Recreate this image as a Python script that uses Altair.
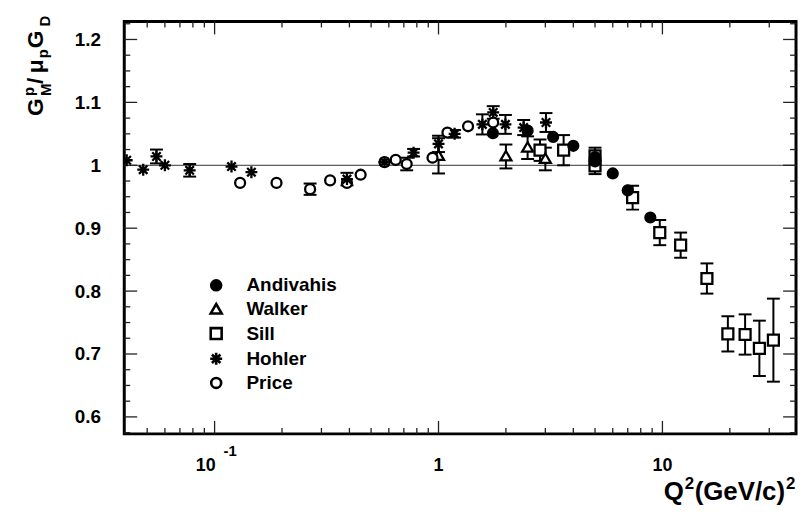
import altair as alt
import pandas as pd

FONT = "Liberation Sans"
SERIES = ["Andivahis", "Walker", "Sill", "Hohler", "Price"]

# ---- data ----
andivahis_q2 = [1.75, 2.5, 3.25, 4.0, 5.0, 5.0, 6.0, 7.0, 8.83]
andivahis_g = [1.051, 1.055, 1.045, 1.031, 1.013, 1.006, 0.987, 0.960, 0.917]
andivahis_e = [0, 0, 0, 0, 0, 0, 0, 0, 0]

walker_q2 = [1.0, 2.0, 2.5, 3.0]
walker_g = [1.015, 1.014, 1.028, 1.010]
walker_e = [0.028, 0.019, 0.018, 0.018]

sill_q2 = [2.84, 3.62, 5.0, 5.0, 7.36, 9.73, 12.06, 15.8, 19.6, 23.4, 27.1, 31.3]
sill_g = [1.024, 1.024, 1.015, 0.999, 0.9485, 0.893, 0.873, 0.820, 0.732, 0.731, 0.709, 0.722]
sill_e = [0.017, 0.024, 0.013, 0.013, 0.019, 0.020, 0.020, 0.024, 0.028, 0.032, 0.044, 0.066]

hohler_q2 = [0.0405, 0.048, 0.055, 0.060, 0.0774, 0.119, 0.146, 0.39, 0.574, 0.774,
             1.0, 1.18, 1.57, 1.755, 1.99, 2.40, 3.02]
hohler_g = [1.008, 0.993, 1.014, 1.000, 0.992, 0.998, 0.989, 0.978, 1.005, 1.020,
            1.034, 1.050, 1.065, 1.084, 1.065, 1.060, 1.068]
hohler_e = [0, 0, 0.011, 0, 0.010, 0, 0, 0.010, 0, 0.006,
            0.013, 0.006, 0.016, 0.010, 0.015, 0.012, 0.015]

price_q2 = [0.130, 0.189, 0.267, 0.328, 0.39, 0.449, 0.574, 0.644, 0.721, 0.94, 1.096, 1.355, 1.755]
price_g = [0.972, 0.972, 0.962, 0.976, 0.972, 0.985, 1.005, 1.0085, 1.002, 1.012, 1.052, 1.062, 1.068]
price_e = [0, 0, 0.009, 0, 0, 0, 0, 0, 0.010, 0, 0, 0, 0]

# axis tick positions
x_major = [0.1, 1, 10]
x_minor = [0.05, 0.06, 0.07, 0.08, 0.09, 0.2, 0.3, 0.4, 0.5, 0.6, 0.7, 0.8, 0.9,
           2, 3, 4, 5, 6, 7, 8, 9, 20, 30]
y_major = [0.6, 0.7, 0.8, 0.9, 1.0, 1.1, 1.2]
y_minor = [0.575, 0.625, 0.65, 0.675, 0.725, 0.75, 0.775, 0.825, 0.85, 0.875,
           0.925, 0.95, 0.975, 1.025, 1.05, 1.075, 1.125, 1.15, 1.175, 1.225]

# ---- table ----
rows = []
for name, qs, gs, es in [
    ("Andivahis", andivahis_q2, andivahis_g, andivahis_e),
    ("Walker", walker_q2, walker_g, walker_e),
    ("Sill", sill_q2, sill_g, sill_e),
    ("Hohler", hohler_q2, hohler_g, hohler_e),
    ("Price", price_q2, price_g, price_e),
]:
    for q, g, e in zip(qs, gs, es):
        rows.append({"series": name, "q2": q, "g": g, "err": e})
df = pd.DataFrame(rows)
df["lo"] = df["g"] - df["err"]
df["hi"] = df["g"] + df["err"]
draw_order = {"Sill": 0, "Walker": 1, "Price": 2, "Hohler": 3, "Andivahis": 4}
df["ord"] = df["series"].map(draw_order)
df = df.sort_values("ord", kind="stable").reset_index(drop=True)
errs = df[df["err"] > 0]

W, H = 676, 415
x_scale = alt.Scale(type="log", domain=[0.0395, 39.5], nice=False)
y_scale = alt.Scale(domain=[0.573, 1.2286], nice=False, zero=False)
y_axis = alt.Axis(values=y_major, format="~g", labelFont=FONT, labelFontSize=19,
                  labelFontWeight="bold", labelColor="black", domain=False,
                  ticks=False, tickSize=0, grid=False, labelPadding=24, title=None)

CIRCLE = "M1,0A1,1,0,1,1,-1,0A1,1,0,1,1,1,0Z"
TRIANGLE = "M0,-1.1L1.1,0.8L-1.1,0.8Z"
SQUARE = "M-1.1,-1.1H1.1V1.1H-1.1Z"
STAR = "M-1.2,0H1.2M0,-1.2V1.2M-0.85,-0.85L0.85,0.85M-0.85,0.85L0.85,-0.85"
SHAPES = [CIRCLE, TRIANGLE, SQUARE, STAR, CIRCLE]
FILLS = ["black", "white", "white", "white", "white"]
STROKES = ["black", "black", "black", "black", "black"]

LEG = alt.Legend(title=None, orient="none", legendX=83, legendY=256, padding=0,
                 labelFont=FONT, labelFontSize=19, labelFontWeight="bold",
                 labelColor="black", symbolSize=100, symbolStrokeWidth=2.6,
                 symbolStrokeColor="black", rowPadding=2.3, labelOffset=21,
                 labelLimit=300)

X = alt.X("q2:Q", scale=x_scale, axis=None)
Y = alt.Y("g:Q", scale=y_scale, axis=y_axis)

one = pd.DataFrame({"k": [0]})

unity = alt.Chart(one).mark_rule(color="#333333", strokeWidth=1).encode(
    y=alt.Y(datum=1.0, type="quantitative", scale=y_scale, axis=y_axis)
)

bars = alt.Chart(errs).mark_rule(color="black", strokeWidth=2).encode(
    x=X, y=alt.Y("lo:Q", scale=y_scale, axis=y_axis), y2="hi:Q"
)
cap_lo = alt.Chart(errs).mark_tick(orient="horizontal", size=13, thickness=2,
                                   color="black", opacity=1).encode(
    x=X, y=alt.Y("lo:Q", scale=y_scale, axis=y_axis)
)
cap_hi = alt.Chart(errs).mark_tick(orient="horizontal", size=13, thickness=2,
                                   color="black", opacity=1).encode(
    x=X, y=alt.Y("hi:Q", scale=y_scale, axis=y_axis)
)

points = alt.Chart(df).mark_point(opacity=1, strokeWidth=2.3, size=100, clip=True).encode(
    x=X, y=Y,
    shape=alt.Shape("series:N", scale=alt.Scale(domain=SERIES, range=SHAPES), legend=LEG),
    fill=alt.Fill("series:N", scale=alt.Scale(domain=SERIES, range=FILLS), legend=LEG),
    stroke=alt.Stroke("series:N", scale=alt.Scale(domain=SERIES, range=STROKES), legend=LEG),
    order=alt.Order("ord:Q"),
)

TICK = "#222222"
xmaj = pd.DataFrame({"v": x_major})
xmin = pd.DataFrame({"v": x_minor})
ymaj = pd.DataFrame({"v": y_major})
ymin = pd.DataFrame({"v": y_minor})
XV = alt.X("v:Q", scale=x_scale, axis=None)
YV = alt.Y("v:Q", scale=y_scale, axis=y_axis)


def xt(data, y0, y1):
    return alt.Chart(data).mark_rule(color=TICK, strokeWidth=1.3).encode(
        x=XV, y=alt.value(y0), y2=alt.value(y1))


def yt(data, x0, x1):
    return alt.Chart(data).mark_rule(color=TICK, strokeWidth=1.3).encode(
        y=YV, x=alt.value(x0), x2=alt.value(x1))


ticks = [
    xt(xmaj, H, H - 13), xt(xmin, H, H - 6), xt(xmaj, 0, 13), xt(xmin, 0, 6),
    yt(ymaj, 0, 13), yt(ymin, 0, 6), yt(ymaj, W, W - 13), yt(ymin, W, W - 6),
]


def txt(s, x, y, size, angle=0, align="left"):
    return alt.Chart(one).mark_text(
        text=s, font=FONT, fontSize=size, fontWeight="bold", color="black",
        align=align, baseline="alphabetic", angle=angle,
    ).encode(x=alt.value(x), y=alt.value(y))


# x tick labels
xlab = pd.DataFrame({"v": [1, 10], "t": ["1", "10"]})
xlabels = alt.Chart(xlab).mark_text(
    font=FONT, fontSize=18, fontWeight="bold", color="black", align="center",
    baseline="alphabetic").encode(x=XV, y=alt.value(452), text="t:N")
tenth = pd.DataFrame({"v": [0.1]})
xl_ten = alt.Chart(tenth).mark_text(
    text="10", font=FONT, fontSize=18, fontWeight="bold", color="black",
    align="right", baseline="alphabetic", dx=1).encode(x=XV, y=alt.value(452))
xl_exp = alt.Chart(tenth).mark_text(
    text="-1", font=FONT, fontSize=15, fontWeight="bold", color="black",
    align="left", baseline="alphabetic", dx=9).encode(x=XV, y=alt.value(437))

# y axis title pieces (rotated)
ytitle = [
    txt("G", -82, 95, 23, 270),
    txt("M", -74, 75, 15, 270),
    txt("p", -91, 75, 15, 270),
    txt("/", -82, 63, 23, 270),
    txt("\u03bc", -82, 52, 23, 270),
    txt("p", -77, 37, 15, 270),
    txt("G", -82, 27, 23, 270),
    txt("D", -75, 5, 15, 270),
]
# x axis title pieces
xtitle = [
    txt("Q", 543, 482, 26),
    txt("2", 564, 470, 17),
    txt("(GeV/c)", 574, 482, 26),
    txt("2", 666, 470, 17),
]

chart = alt.layer(
    unity, bars, cap_lo, cap_hi, *ticks, points, xlabels, xl_ten, xl_exp,
    *ytitle, *xtitle,
).properties(
    width=W, height=H,
    autosize=alt.AutoSizeParams(type="none"),
    padding={"left": 117, "top": 12, "right": 3, "bottom": 70},
    background="white",
).configure_view(stroke="black", strokeWidth=3)

chart.save("out.html", embed_options={"renderer": "svg", "actions": False})
